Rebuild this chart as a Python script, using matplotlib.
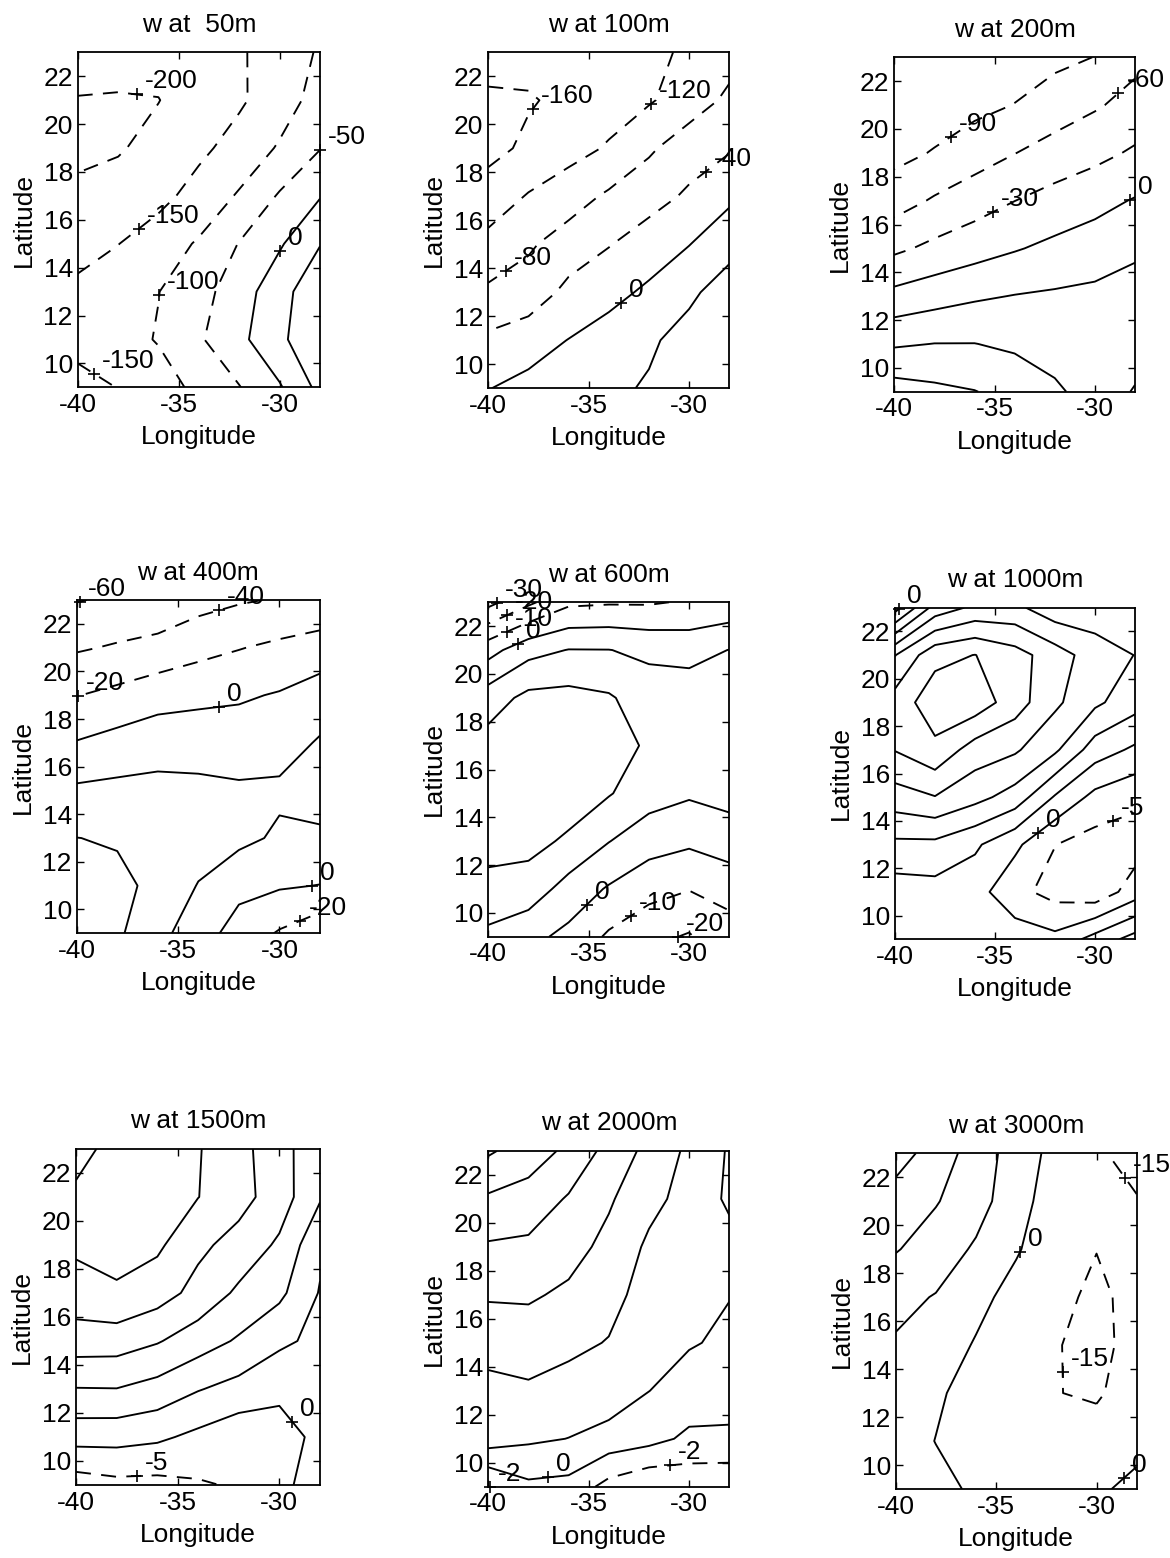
import numpy as np
import matplotlib
matplotlib.use("Agg")
import matplotlib.pyplot as plt

plt.rcParams["font.family"] = ["Liberation Sans", "DejaVu Sans"]
plt.rcParams["axes.unicode_minus"] = False

FIG_W, FIG_H, DPI = 1170, 1558, 100

# Grid of the vertical-velocity field (w), rows follow LAT, columns follow LON
LON = [-40, -38, -36, -34, -32, -30, -28]
LAT = [9, 11, 13, 15, 17, 19, 21, 23]

W_50 = [
    [-165, -149, -120, -89, -52, -5, 64],
    [-135, -117, -97, -56, -13, 41, 85],
    [-138, -120, -101, -68, -24, 32, 85],
    [-170, -151, -124, -95, -48, -6, 48],
    [-186, -182, -165, -131, -95, -45, -3],
    [-215, -204, -186, -161, -131, -95, -52],
    [-201, -202, -201, -178, -157, -123, -81],
    [-190, -190, -185, -175, -156, -126, -95],
]
W_100 = [
    [-1, 10.5, 21, 32, 44, 58, 72],
    [-32, -16, 1, 17, 34, 55, 70],
    [-73, -64, -29, -12, 7, 32, 60],
    [-108, -85, -63, -42, -21, -1, 26],
    [-143, -117, -97, -74, -55, -34, -8],
    [-171, -153, -135, -116, -86, -58, -44],
    [-164, -163, -152, -138, -124, -100, -72],
    [-150, -148, -142, -135, -126, -116, -95],
]
W_200 = [
    [104, 97, 91, 80, 66, 45, 28],
    [56.4, 60.5, 60.5, 55, 45, 38, 42],
    [9, 18, 26, 31, 34, 37, 44],
    [-36, -23, -12.4, -2.3, 7, 14, 24],
    [-73, -56.7, -43.5, -30.3, -19.5, -9, 2],
    [-99, -88, -74, -60.7, -48, -38.5, -26],
    [-112, -106, -98, -89.3, -76, -63.3, -50],
    [-118, -115, -112, -105, -97, -89.5, -68],
]
W_400 = [
    [52, 43, 26.2, 8.4, -7.6, -22, -35],
    [48, 44, 36, 19, 5, 2, -0.5],
    [40.2, 38.5, 33, 30, 25, 17, 18],
    [23.3, 24.9, 26.5, 25.1, 22.7, 23.3, 25],
    [1.08, 7, 10.2, 10.6, 10.4, 12.2, 21.8],
    [-20.6, -15, -7, -4.5, -2.5, 1.5, 10],
    [-42.2, -38, -35, -26.6, -20.9, -16, -12],
    [-61, -57, -52, -47, -42, -38.5, -34],
]
W_600 = [
    [7.8, 2.75, -2.57, -11.5, -17.3, -21, -11.7],
    [16.7, 15.7, 6, -1, -6.5, -9.6, -8.6],
    [24, 23, 18.5, 10.3, 4.1, 1.8, 7],
    [25, 26, 25, 20.7, 14.3, 11.3, 12],
    [23.9, 25, 26, 24, 18.7, 16, 15],
    [15.2, 22.64, 23.2, 21.1, 14.85, 15.7, 16],
    [-3.8, 6.64, 10.33, 10.2, 7.97, 6.5, 10.2],
    [-33, -22, -12, -11, -11, -9, -7.5],
]
W_1000 = [
    [3, 4, 3, 2.86, 1.4, 6.9, 12],
    [2.5, 3.13, 2.0, -3.5, -6.8, -8.5, -2.5],
    [8.9, 8.8, 5.8, 1.1, -4.9, -7.06, -7.3],
    [17.8, 19.8, 16.6, 12.9, 4.5, -1.5, -3.86],
    [25.2, 28.8, 22.6, 20.7, 15.9, 7.5, 4.1],
    [27.1, 32.9, 33, 27.3, 21.0, 16, 11.97],
    [19.8, 28.5, 30.1, 27, 22.4, 17.5, 14.9],
    [-2, 12, 16.1, 16.2, 11.8, 12, 10.8],
]
W_1500 = [
    [-7.6, -6.4, -6.5, -5.55, -4.5, -0.81, 1.5],
    [1.9, 1.8, 0.9, -1.17, -3.33, -3.33, 2],
    [9.8, 9.9, 8.2, 5.3, 3.33, 1.8, 3],
    [17.6, 17.4, 15.4, 12.4, 9.4, 5.8, 4],
    [22.9, 24.4, 22.2, 18.4, 14.1, 11.15, 4.67],
    [25.9, 26.6, 25.9, 21.1, 18.2, 14.2, 6],
    [28, 27.5, 27, 25.1, 21.8, 17.5, 10.5],
    [33.7, 26.3, 25.9, 25.3, 22, 16.3, 12.6],
]
W_2000 = [
    [-2.05, -0.41, -0.62, -2.7, -3.8, -3.5, -3.5],
    [3.0, 2.32, 1.97, 1.2, 0.67, -0.4, -0.5],
    [3.36, 3.7, 3.25, 3.25, 2.02, 1.2, 1.2],
    [4.84, 5.0, 4.47, 3.9, 2.7, 2.14, 1.7],
    [6.2, 6.25, 5.65, 4.65, 3.2, 2.6, 2.05],
    [7.77, 7.6, 6.74, 5.45, 3.65, 3.0, 2.65],
    [9.7, 9.2, 7.8, 6.25, 4.58, 3.3, 1.67],
    [12.27, 11, 9.57, 7.33, 5.43, 3.6, 1.8],
]
W_3000 = [
    [5, 4, -2.15, -6, -8, -5, 8.3],
    [7, -0.3, -6, -9, -11, -9.8, -9.5],
    [10, 2.1, -5.6, -10, -14.7, -16.5, -9],
    [13.5, 8, -1.25, -8, -14.5, -18, -11.3],
    [19, 14.2, 4.4, -5.4, -12.6, -17, -12],
    [31, 23, 13, 1.5, -10, -14.8, -12],
    [40, 31, 21, 6, -8.1, -10, -14.3],
    [50, 40, 21.8, 9.4, -5.6, -13.5, -19],
]

# Contour levels of each depth
LEV_50 = [-200, -150, -100, -50, 0, 50]
LEV_100 = [-160, -120, -80, -40, 0, 40]
LEV_200 = [-90, -60, -30, 0, 30, 60, 90]
LEV_400 = [-60, -40, -20, 0, 20, 40]
LEV_600 = [-30, -20, -10, 0, 10, 20]
LEV_1000 = [-5, 0, 5, 10, 15, 20, 25, 30]
LEV_1500 = [-5, 0, 5, 10, 15, 20, 25, 30]
LEV_2000 = [-2, 0, 2, 4, 6, 8, 10, 12]
LEV_3000 = [-15, 0, 15, 30, 45]

TITLES = ["w at  50m", "w at 100m", "w at 200m",
          "w at 400m", "w at 600m", "w at 1000m",
          "w at 1500m", "w at 2000m", "w at 3000m"]

# Where each contour label goes: (level, approx lon, approx lat)
SPOTS = [
    [(-200, -37.1, 21.1), (-150, -36.9, 15.56), (-100, -35.9, 12.85),
     (-150, -39.07, 9.7), (-50, -28.0, 19.0), (0, -29.9, 14.65)],
    [(-160, -37.5, 20.46), (-120, -31.6, 20.5), (-40, -28.96, 17.8),
     (-80, -39.1, 13.86), (0, -33.3, 12.47)],
    [(-90, -37.06, 19.54), (-60, -28.67, 21.35), (-30, -34.98, 16.32),
     (0, -28.33, 17.16)],
    [(-60, -39.85, 22.93), (-40, -33.0, 22.6), (-20, -39.95, 18.94),
     (0, -33.0, 18.6), (0, -28.4, 10.96), (-20, -29.0, 9.6)],
    [(-30, -39.58, 22.96), (-20, -39.09, 22.54), (-10, -39.09, 21.77),
     (0, -38.5, 21.21), (0, -35.0, 10.26), (-10, -33.0, 9.98),
     (-20, -31.04, 9.14)],
    [(0, -39.83, 22.97), (0, -32.87, 13.54), (-5, -29.08, 13.96)],
    [(0, -29.31, 11.68), (-5, -37.0, 9.31)],
    [(-2, -39.5, 9.1), (0, -37.0, 9.34), (-2, -31.04, 10.45)],
    [(-15, -28.75, 21.89), (0, -34.0, 18.97), (-15, -32.0, 13.89),
     (0, -28.66, 9.45)],
]

# Axes boxes in pixels: left, right, top, bottom
BOXES = [
    (77.7, 320.0, 52.3, 387.3), (488.3, 729.3, 52.3, 388.3), (894.3, 1135.0, 57.3, 391.7),
    (76.7, 320.0, 600.0, 933.3), (488.3, 729.3, 602.3, 936.7), (895.0, 1135.0, 607.7, 939.3),
    (76.0, 320.0, 1149.0, 1485.0), (488.3, 729.3, 1151.0, 1486.7), (895.7, 1136.7, 1153.3, 1489.0),
]

FIELDS = [W_50, W_100, W_200, W_400, W_600, W_1000, W_1500, W_2000, W_3000]
LEVELS = [LEV_50, LEV_100, LEV_200, LEV_400, LEV_600, LEV_1000, LEV_1500, LEV_2000, LEV_3000]

FS = 19


def nearest_point(cs, level, x0, y0, ux, uy):
    """Closest point on the drawn contour of `level` to (x0, y0), measured in pixels."""
    lv = np.asarray(cs.levels, dtype=float)
    idx = int(np.argmin(np.abs(lv - level)))
    path = cs.get_paths()[idx]
    p = np.array([x0 / ux, y0 / uy])
    best, best_d = (x0, y0), np.inf
    if len(path.vertices) == 0:
        return best
    for poly in path.to_polygons(closed_only=False):
        if len(poly) < 2:
            continue
        pts = np.column_stack([poly[:, 0] / ux, poly[:, 1] / uy])
        a = pts[:-1]
        b = pts[1:]
        d = b - a
        dd = np.einsum("ij,ij->i", d, d)
        dd[dd == 0] = 1e-12
        t = np.clip(np.einsum("ij,ij->i", p - a, d) / dd, 0, 1)
        q = a + t[:, None] * d
        dist = np.hypot(q[:, 0] - p[0], q[:, 1] - p[1])
        k = int(np.argmin(dist))
        if dist[k] < best_d:
            best_d = dist[k]
            best = (q[k, 0] * ux, q[k, 1] * uy)
    return best


def draw_panel(fig, box, title, field, levels, spots):
    left, right, top, bottom = box
    w = right - left
    h = bottom - top
    ax = fig.add_axes([left / FIG_W, 1 - bottom / FIG_H, w / FIG_W, h / FIG_H])
    z = np.array(field, dtype=float)
    styles = [(0, (8, 5.5)) if lv < 0 else "solid" for lv in levels]
    cs = ax.contour(LON, LAT, z, levels=levels, colors="k",
                    linewidths=1.35, linestyles=styles)
    ax.set_xlim(-40, -28)
    ax.set_ylim(9, 23)
    ax.set_xticks([-40, -35, -30])
    ax.set_yticks(list(range(10, 23, 2)))
    ax.tick_params(direction="in", length=5, width=1.0, top=True, right=True,
                   labelsize=FS)
    ax.tick_params(axis="x", pad=4)
    ax.tick_params(axis="y", pad=3.5)
    for s in ax.spines.values():
        s.set_linewidth(1.3)

    ax.text(0.5, 1 + 20.5 / h, title, transform=ax.transAxes,
            ha="center", va="baseline", fontsize=FS)
    ax.text(0.5, -57 / h, "Longitude", transform=ax.transAxes,
            ha="center", va="baseline", fontsize=FS)
    ax.text(-54 / w, 0.5, "Latitude", transform=ax.transAxes, rotation=90,
            ha="center", va="center", fontsize=FS)

    ux = 12.0 / w
    uy = 14.0 / h
    for lv, x0, y0 in spots:
        x, y = nearest_point(cs, lv, x0, y0, ux, uy)
        ax.plot([x], [y], marker="+", color="k", ms=8, mew=1.2, clip_on=False)
        ax.annotate(f"{lv:g}", (x, y), xytext=(8, 13), textcoords="offset pixels",
                    ha="left", va="center", fontsize=FS, annotation_clip=False)
    return ax


fig = plt.figure(figsize=(FIG_W / DPI, FIG_H / DPI), dpi=DPI)
fig.patch.set_facecolor("white")
for box, title, field, levels, spots in zip(BOXES, TITLES, FIELDS, LEVELS, SPOTS):
    draw_panel(fig, box, title, field, levels, spots)

fig.savefig("out.png", dpi=DPI, facecolor="white")
